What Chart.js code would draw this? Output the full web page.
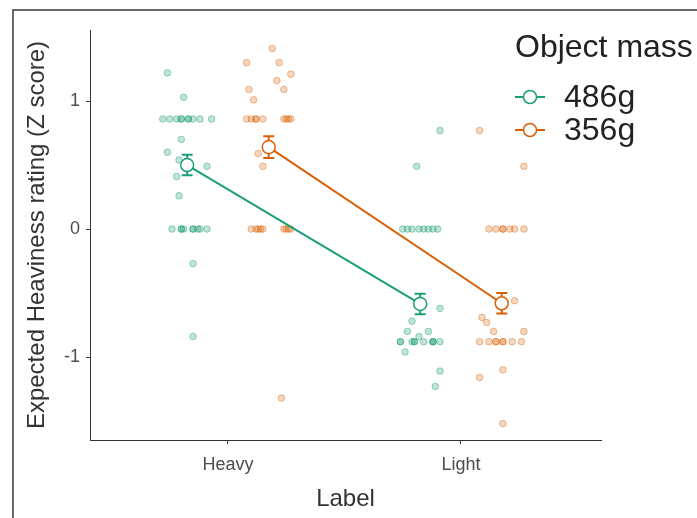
<!DOCTYPE html>
<html>
<head>
<meta charset="utf-8">
<script src="https://cdn.jsdelivr.net/npm/chart.js@4/dist/chart.umd.min.js"></script>
<style>
  html, body { margin: 0; padding: 0; background: #fff; }
  #wrap { position: relative; width: 697px; height: 518px; }
</style>
</head>
<body>
<div id="wrap"><canvas id="chart" width="697" height="518"></canvas></div>
<script>
// categories and groups
const categories = ['Heavy', 'Light'];
const masses = ['486g', '356g'];
const yTicks = [-1, 0, 1];

// group means and standard errors (Heavy, Light)
const means486 = [0.50, -0.585];
const means356 = [0.64, -0.58];
const errors486 = [0.08, 0.08];
const errors356 = [0.085, 0.08];

// individual ratings with their horizontal jitter (category units)
const heavy486Values = [1.22, 1.03, 0.86, 0.86, 0.86, 0.86, 0.86, 0.86, 0.86, 0.86, 0.86, 0.86,
  0.70, 0.60, 0.54, 0.49, 0.41, 0.26, 0, 0, 0, 0, 0, 0, 0, 0, 0, -0.27, -0.84];
const heavy486Jitter = [-0.26, -0.19, -0.28, -0.25, -0.22, -0.20, -0.20, -0.17, -0.17, -0.15, -0.12, -0.07,
  -0.20, -0.26, -0.21, -0.09, -0.22, -0.21, -0.24, -0.20, -0.20, -0.19, -0.15, -0.15, -0.13, -0.12, -0.09, -0.15, -0.15];

const heavy356Values = [1.41, 1.30, 1.30, 1.21, 1.16, 1.09, 1.09, 1.01,
  0.86, 0.86, 0.86, 0.86, 0.86, 0.86, 0.86, 0.86, 0.86,
  0.59, 0.49, 0, 0, 0, 0, 0, 0, 0, 0, 0, -1.32];
const heavy356Jitter = [0.19, 0.08, 0.22, 0.27, 0.21, 0.09, 0.24, 0.11,
  0.08, 0.10, 0.12, 0.12, 0.15, 0.24, 0.25, 0.26, 0.27,
  0.13, 0.15, 0.10, 0.12, 0.13, 0.14, 0.15, 0.24, 0.25, 0.26, 0.27, 0.23];

const light486Values = [0.77, 0.49, 0, 0, 0, 0, 0, 0, 0, 0,
  -0.62, -0.72, -0.80, -0.80, -0.84,
  -0.88, -0.88, -0.88, -0.88, -0.88, -0.88, -0.88, -0.88, -0.88, -0.88,
  -0.96, -1.11, -1.23];
const light486Jitter = [-0.09, -0.19, -0.25, -0.23, -0.21, -0.18, -0.16, -0.14, -0.12, -0.10,
  -0.09, -0.21, -0.23, -0.14, -0.18,
  -0.26, -0.26, -0.21, -0.20, -0.20, -0.16, -0.12, -0.12, -0.12, -0.09,
  -0.24, -0.09, -0.11];

const light356Values = [0.77, 0.49, 0, 0, 0, 0, 0, 0, 0,
  -0.56, -0.69, -0.73, -0.80, -0.80,
  -0.88, -0.88, -0.88, -0.88, -0.88, -0.88, -0.88, -0.88,
  -1.10, -1.16, -1.52];
const light356Jitter = [0.08, 0.27, 0.12, 0.15, 0.18, 0.18, 0.21, 0.23, 0.27,
  0.23, 0.09, 0.11, 0.14, 0.27,
  0.08, 0.12, 0.15, 0.15, 0.18, 0.18, 0.22, 0.26,
  0.18, 0.08, 0.18];

const dodge = 0.175;
const green = '#1b9e77';
const orange = '#d95f02';

function rawPoints(groups) {
  const pts = [];
  groups.forEach(([cat, values, jitter]) => {
    values.forEach((v, i) => pts.push({ x: cat + jitter[i], y: v }));
  });
  return pts;
}

function meanPoints(means, shift) {
  return means.map((m, i) => ({ x: i + shift, y: m }));
}

const errorSets = [errors486, errors356];

// draws the frame round the figure
const framePlugin = {
  id: 'frame',
  beforeDraw(chart) {
    const ctx = chart.ctx;
    ctx.save();
    ctx.strokeStyle = '#3a3a3a';
    ctx.lineWidth = 1.5;
    ctx.beginPath();
    ctx.moveTo(13, 518);
    ctx.lineTo(13, 10);
    ctx.lineTo(697, 10);
    ctx.stroke();
    ctx.restore();
  },
};

// error bars under each mean marker
const errorBarPlugin = {
  id: 'errorBars',
  beforeDatasetDraw(chart, args) {
    if (args.index > 1) return;
    const ds = chart.data.datasets[args.index];
    const errs = errorSets[args.index];
    const { x, y } = chart.scales;
    const ctx = chart.ctx;
    ctx.save();
    ctx.strokeStyle = ds.borderColor;
    ctx.lineWidth = 2;
    ds.data.forEach((p, i) => {
      const px = x.getPixelForValue(p.x);
      const top = y.getPixelForValue(p.y + errs[i]);
      const bot = y.getPixelForValue(p.y - errs[i]);
      ctx.beginPath();
      ctx.moveTo(px, top);
      ctx.lineTo(px, bot);
      ctx.moveTo(px - 5.5, top);
      ctx.lineTo(px + 5.5, top);
      ctx.moveTo(px - 5.5, bot);
      ctx.lineTo(px + 5.5, bot);
      ctx.stroke();
    });
    ctx.restore();
  },
};

// legend drawn over the right part of the panel
const legendPlugin = {
  id: 'massLegend',
  afterDraw(chart) {
    const ctx = chart.ctx;
    ctx.save();
    ctx.fillStyle = '#222';
    ctx.font = '32px "Liberation Sans", Arial, sans-serif';
    ctx.textBaseline = 'middle';
    ctx.textAlign = 'left';
    ctx.fillText('Object mass', 515, 48);
    [green, orange].forEach((c, i) => {
      const cy = 97 + i * 33;
      ctx.strokeStyle = c;
      ctx.lineWidth = 2;
      ctx.beginPath();
      ctx.moveTo(515, cy);
      ctx.lineTo(545, cy);
      ctx.stroke();
      ctx.beginPath();
      ctx.arc(530, cy, 6.5, 0, Math.PI * 2);
      ctx.fillStyle = '#fff';
      ctx.fill();
      ctx.lineWidth = 1.5;
      ctx.stroke();
      ctx.fillStyle = '#222';
      ctx.fillText(masses[i], 564, cy + 1);
    });
    ctx.restore();
  },
};

const tickFont = { family: '"Liberation Sans", Arial, sans-serif', size: 18 };
const titleFont = { family: '"Liberation Sans", Arial, sans-serif', size: 24 };

new Chart(document.getElementById('chart'), {
  type: 'scatter',
  data: {
    datasets: [
      {
        type: 'line',
        label: masses[0],
        data: meanPoints(means486, -dodge),
        borderColor: green,
        borderWidth: 2,
        pointRadius: 6.5,
        pointBackgroundColor: '#fff',
        pointBorderColor: green,
        pointBorderWidth: 1.5,
        order: 0,
      },
      {
        type: 'line',
        label: masses[1],
        data: meanPoints(means356, dodge),
        borderColor: orange,
        borderWidth: 2,
        pointRadius: 6.5,
        pointBackgroundColor: '#fff',
        pointBorderColor: orange,
        pointBorderWidth: 1.5,
        order: 0,
      },
      {
        label: masses[0] + ' raw',
        data: rawPoints([[0, heavy486Values, heavy486Jitter], [1, light486Values, light486Jitter]]),
        pointRadius: 3.3,
        backgroundColor: 'rgba(27,158,119,0.28)',
        borderColor: 'rgba(27,158,119,0.42)',
        borderWidth: 1,
        order: 1,
      },
      {
        label: masses[1] + ' raw',
        data: rawPoints([[0, heavy356Values, heavy356Jitter], [1, light356Values, light356Jitter]]),
        pointRadius: 3.3,
        backgroundColor: 'rgba(217,95,2,0.25)',
        borderColor: 'rgba(217,95,2,0.4)',
        borderWidth: 1,
        order: 1,
      },
    ],
  },
  options: {
    responsive: false,
    animation: false,
    layout: { padding: { left: 0, top: 30, right: 96, bottom: 0 } },
    plugins: {
      legend: { display: false },
      tooltip: { enabled: false },
    },
    scales: {
      x: {
        type: 'linear',
        min: -0.592,
        max: 1.601,
        afterBuildTicks: (scale) => { scale.ticks = categories.map((_, i) => ({ value: i })); },
        afterFit: (scale) => { scale.height = 78; },
        ticks: {
          callback: (v) => categories[v],
          font: tickFont,
          color: '#4d4d4d',
          padding: 10,
          maxRotation: 0,
        },
        grid: { drawOnChartArea: false, tickLength: 4, color: '#333', lineWidth: 1 },
        border: { color: '#333', width: 1 },
        title: { display: true, text: 'Label', font: titleFont, color: '#333', padding: { top: 0, bottom: 4 } },
      },
      y: {
        type: 'linear',
        min: -1.648,
        max: 1.555,
        afterBuildTicks: (scale) => { scale.ticks = yTicks.map((v) => ({ value: v })); },
        afterFit: (scale) => { scale.width = 90; },
        ticks: {
          callback: (v) => String(v),
          font: tickFont,
          color: '#4d4d4d',
          padding: 6,
        },
        grid: { drawOnChartArea: false, tickLength: 4, color: '#333', lineWidth: 1 },
        border: { color: '#333', width: 1 },
        title: { display: true, text: 'Expected Heaviness rating (Z score)', font: titleFont, color: '#333', padding: { top: 23, bottom: 0 } },
      },
    },
  },
  plugins: [framePlugin, errorBarPlugin, legendPlugin],
});
</script>
</body>
</html>
